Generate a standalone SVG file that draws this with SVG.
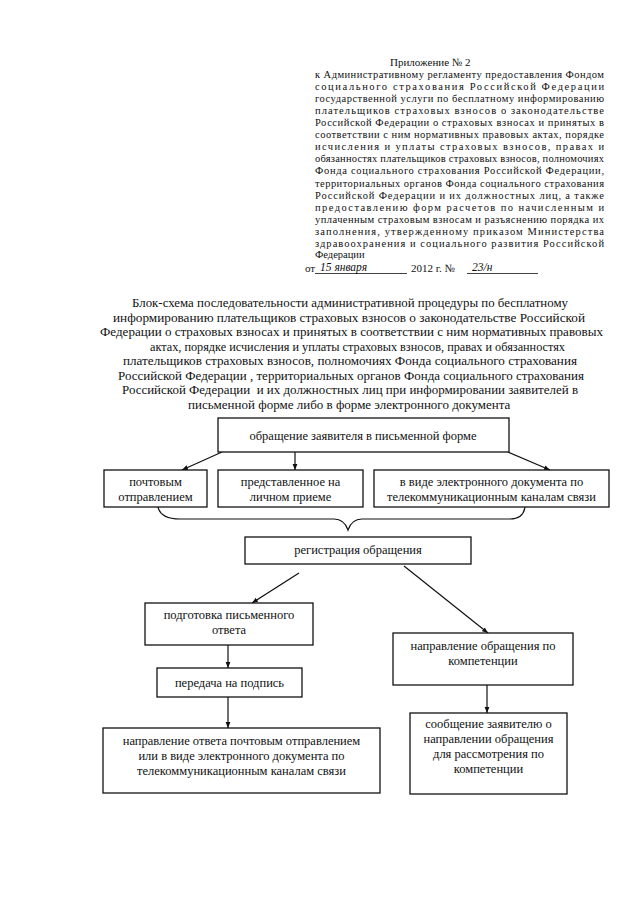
<svg xmlns="http://www.w3.org/2000/svg" width="640" height="905" viewBox="0 0 640 905">
<defs>
<style>
text{font-family:"Liberation Serif","Times New Roman",serif;fill:#111}
.h{font-size:10.5px}
.t{font-size:13px;text-anchor:start}
.b{font-size:12.5px;text-anchor:middle}
.hw{font-family:"Liberation Serif",serif;font-style:italic;font-size:11.5px}
rect{fill:#fff;stroke:#111;stroke-width:1.3}
.c{stroke:#111;stroke-width:1.2;fill:none}
</style>
<marker id="a" viewBox="0 0 10 10" refX="10" refY="5" markerWidth="6" markerHeight="6" orient="auto" markerUnits="userSpaceOnUse">
<path d="M0,1 L10,5 L0,9 Z" fill="#111"/>
</marker>
</defs>
<rect x="0" y="0" width="640" height="905" style="fill:#fff;stroke:none"/>
<g id="header">
<text x="390" y="66" style="font-size:11px">Приложение № 2</text>
<text class="h" x="315" y="78" textLength="289" lengthAdjust="spacing">к Административному регламенту предоставления Фондом</text>
<text class="h" x="315" y="90" textLength="289" lengthAdjust="spacing">социального страхования Российской Федерации</text>
<text class="h" x="315" y="102" textLength="289" lengthAdjust="spacing">государственной услуги по бесплатному информированию</text>
<text class="h" x="315" y="114" textLength="289" lengthAdjust="spacing">плательщиков страховых взносов о законодательстве</text>
<text class="h" x="315" y="126" textLength="289" lengthAdjust="spacing">Российской Федерации о страховых взносах и принятых в</text>
<text class="h" x="315" y="138" textLength="289" lengthAdjust="spacing">соответствии с ним нормативных правовых актах, порядке</text>
<text class="h" x="315" y="150" textLength="289" lengthAdjust="spacing">исчисления и уплаты страховых взносов, правах и</text>
<text class="h" x="315" y="162" textLength="289" lengthAdjust="spacing">обязанностях плательщиков страховых взносов, полномочиях</text>
<text class="h" x="315" y="174" textLength="289" lengthAdjust="spacing">Фонда социального страхования Российской Федерации,</text>
<text class="h" x="315" y="187" textLength="289" lengthAdjust="spacing">территориальных органов Фонда социального страхования</text>
<text class="h" x="315" y="199" textLength="289" lengthAdjust="spacing">Российской Федерации и их должностных лиц, а также</text>
<text class="h" x="315" y="211" textLength="289" lengthAdjust="spacing">предоставлению форм расчетов по начисленным и</text>
<text class="h" x="315" y="223" textLength="289" lengthAdjust="spacing">уплаченным страховым взносам и разъяснению порядка их</text>
<text class="h" x="315" y="235" textLength="289" lengthAdjust="spacing">заполнения, утвержденному приказом Министерства</text>
<text class="h" x="315" y="247" textLength="289" lengthAdjust="spacing">здравоохранения и социального развития Российской</text>
<text class="h" x="315" y="258">Федерации</text>
<text x="305" y="272" style="font-size:11px">от</text>
<text class="hw" x="320" y="271">15 января</text>
<line x1="315" y1="273.5" x2="407" y2="273.5" class="c" style="stroke-width:0.8"/>
<text x="411" y="272" style="font-size:11px">2012 г. №</text>
<text class="hw" x="472" y="271">23/н</text>
<line x1="467" y1="273.5" x2="538" y2="273.5" class="c" style="stroke-width:0.8"/>
</g>
<g id="title">
<text class="t" x="132" y="307" textLength="436" lengthAdjust="spacingAndGlyphs">Блок-схема последовательности административной процедуры по бесплатному</text>
<text class="t" x="113" y="322" textLength="472" lengthAdjust="spacingAndGlyphs">информированию плательщиков страховых взносов о законодательстве Российской</text>
<text class="t" x="100" y="336" textLength="503" lengthAdjust="spacingAndGlyphs">Федерации о страховых взносах и принятых в соответствии с ним нормативных правовых</text>
<text class="t" x="150" y="351" textLength="415" lengthAdjust="spacingAndGlyphs">актах, порядке исчисления и уплаты страховых взносов, правах и обязанностях</text>
<text class="t" x="123" y="365" textLength="454" lengthAdjust="spacingAndGlyphs">плательщиков страховых взносов, полномочиях Фонда социального страхования</text>
<text class="t" x="118" y="380" textLength="466" lengthAdjust="spacingAndGlyphs">Российской Федерации , территориальных органов Фонда социального страхования</text>
<text class="t" x="122" y="394" textLength="456" lengthAdjust="spacingAndGlyphs" xml:space="preserve">Российской Федерации  и их должностных лиц при информировании заявителей в</text>
<text class="t" x="188" y="409">письменной форме либо в форме электронного документа</text>
</g>
<g id="connectors">
<line class="c" x1="222" y1="452" x2="182" y2="470" marker-end="url(#a)"/>
<line class="c" x1="295" y1="452" x2="295" y2="470" marker-end="url(#a)"/>
<line class="c" x1="508" y1="452" x2="550" y2="470" marker-end="url(#a)"/>
<path class="c" d="M158,507 C160,516 168,519 180,519 L334,519 C342,519 346,524 348,530 C350,524 354,519 362,519 L510,519 C520,519 524,514 525,507"/>
<line class="c" x1="299" y1="573" x2="252" y2="603" marker-end="url(#a)"/>
<line class="c" x1="404" y1="566" x2="488" y2="633" marker-end="url(#a)"/>
<line class="c" x1="228" y1="645" x2="228" y2="668" marker-end="url(#a)"/>
<line class="c" x1="228" y1="697" x2="228" y2="728" marker-end="url(#a)"/>
<line class="c" x1="487" y1="685" x2="487" y2="713" marker-end="url(#a)"/>
</g>
<g id="n1"><rect x="218" y="418" width="291" height="34"/><text class="b" x="363" y="440">обращение заявителя в письменной форме</text></g>
<g id="n2"><rect x="104" y="470" width="103" height="37"/><text class="b" x="155.5" y="486">почтовым</text><text class="b" x="155.5" y="501">отправлением</text></g>
<g id="n3"><rect x="218" y="470" width="145" height="37"/><text class="b" x="290.5" y="486">представленное на</text><text class="b" x="290.5" y="501">личном приеме</text></g>
<g id="n4"><rect x="374" y="470" width="235" height="37"/><text class="b" x="491.5" y="486">в виде электронного документа по</text><text class="b" x="491.5" y="501">телекоммуникационным каналам связи</text></g>
<g id="n5"><rect x="245" y="537" width="226" height="27"/><text class="b" x="358" y="554">регистрация обращения</text></g>
<g id="n6"><rect x="145" y="603" width="168" height="42"/><text class="b" x="229" y="619">подготовка письменного</text><text class="b" x="229" y="634">ответа</text></g>
<g id="n7"><rect x="157" y="668" width="145" height="29"/><text class="b" x="229.5" y="687">передача на подпись</text></g>
<g id="n8"><rect x="103" y="728" width="277" height="65"/><text class="b" x="241.5" y="745">направление ответа почтовым отправлением</text><text class="b" x="241.5" y="760">или в виде электронного документа по</text><text class="b" x="241.5" y="775">телекоммуникационным каналам связи</text></g>
<g id="n9"><rect x="393" y="633" width="180" height="52"/><text class="b" x="483" y="650">направление обращения по</text><text class="b" x="483" y="665">компетенции</text></g>
<g id="n10"><rect x="410" y="713" width="157" height="81"/><text class="b" x="488.5" y="728">сообщение заявителю о</text><text class="b" x="488.5" y="743">направлении обращения</text><text class="b" x="488.5" y="758">для рассмотрения по</text><text class="b" x="488.5" y="773">компетенции</text></g>
</svg>
